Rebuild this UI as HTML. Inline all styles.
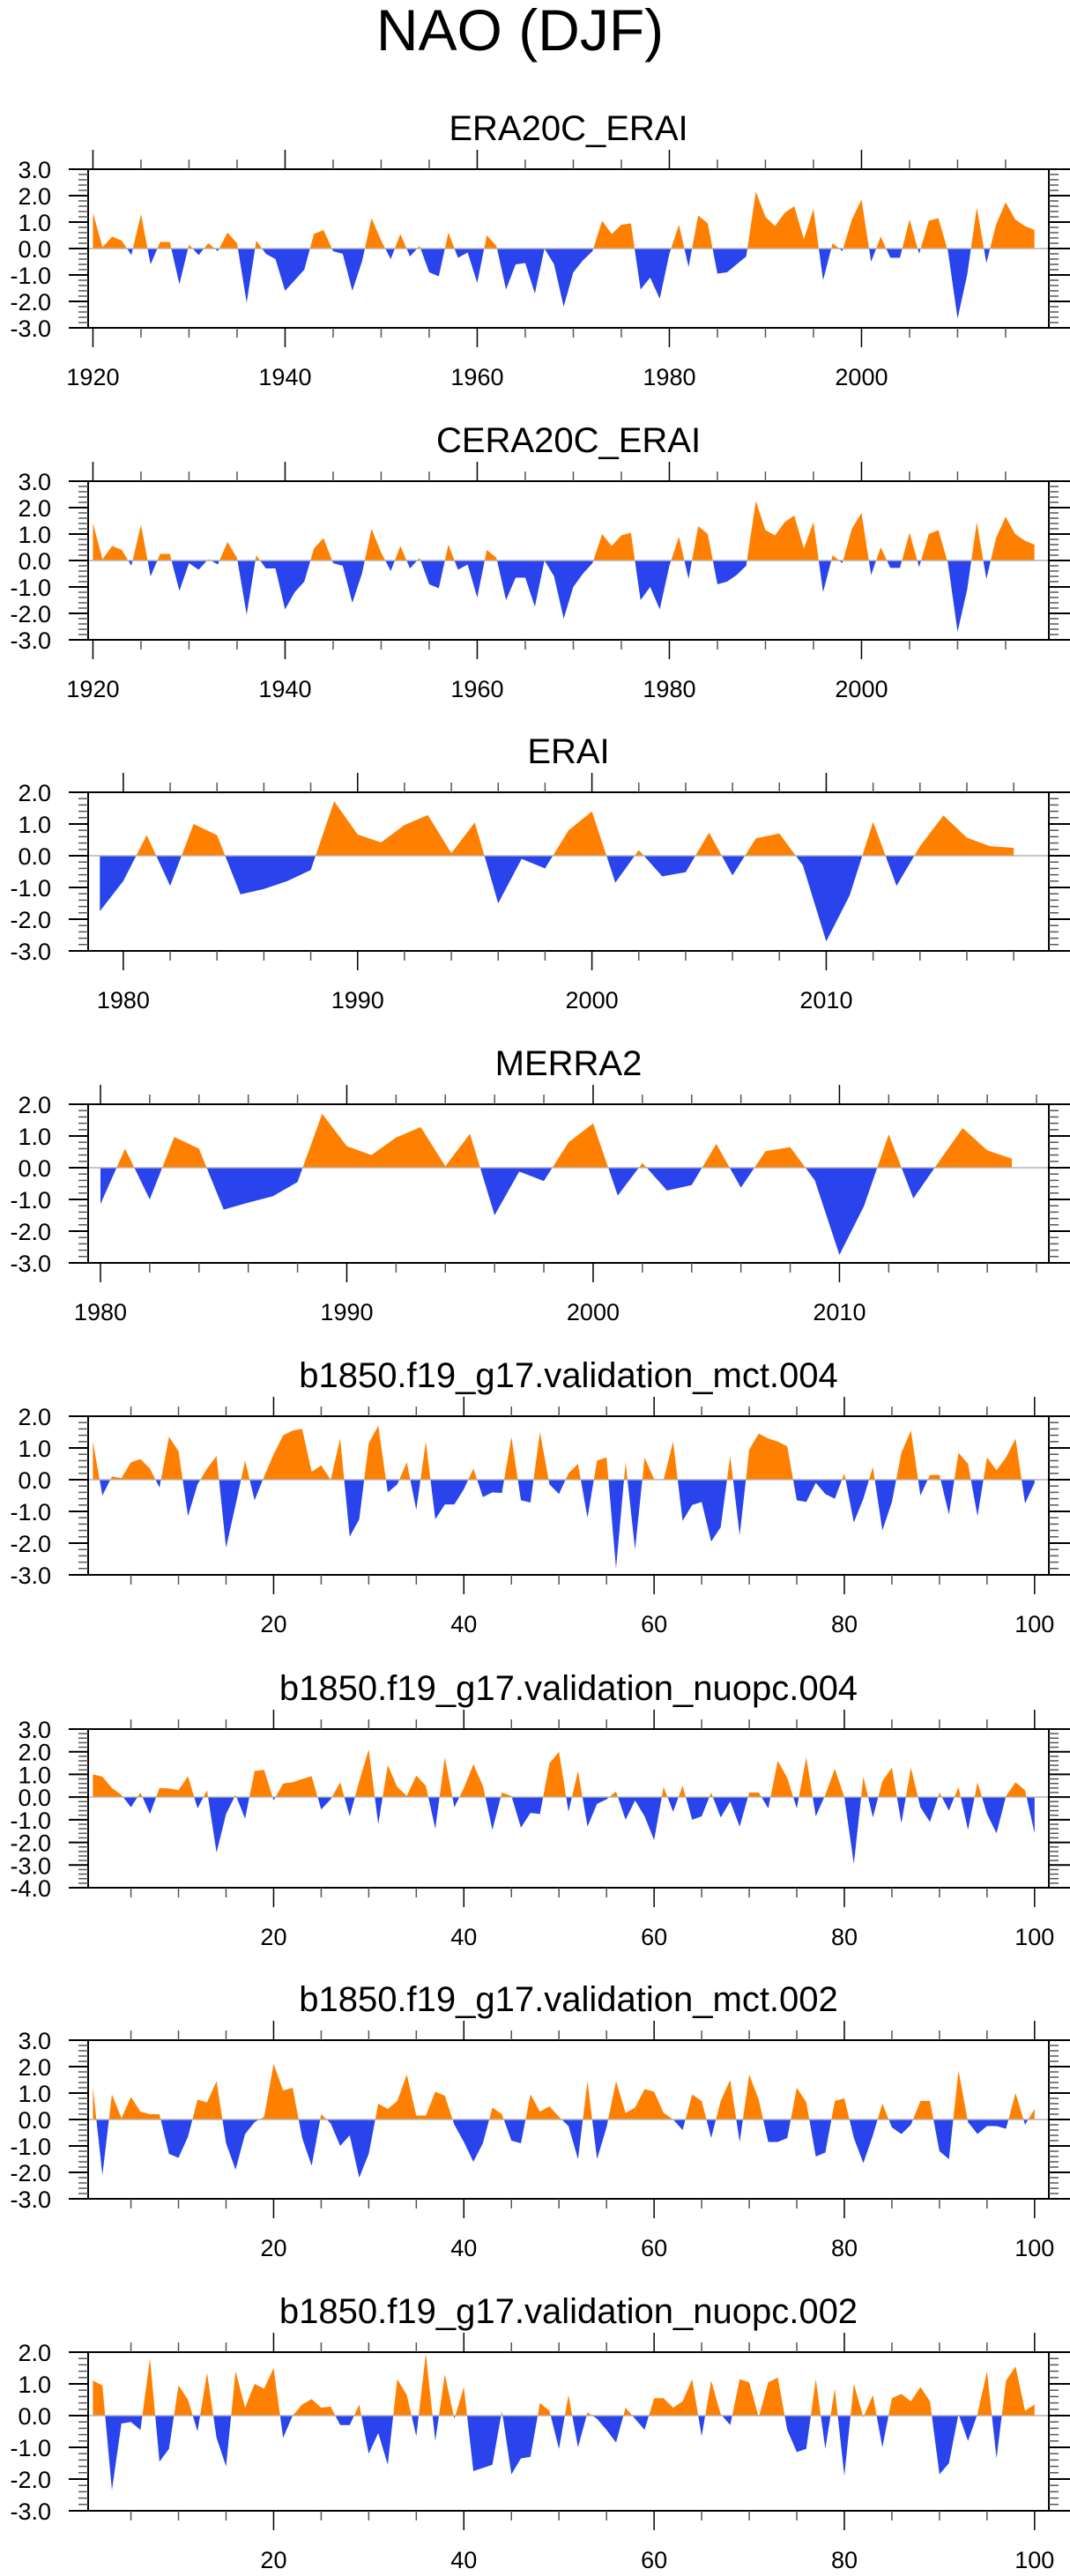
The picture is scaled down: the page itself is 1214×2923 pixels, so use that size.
<!DOCTYPE html>
<html><head><meta charset="utf-8"><title>NAO (DJF)</title>
<style>
html,body{margin:0;padding:0;background:#fff;}
svg{display:block;font-family:"Liberation Sans",Arial,sans-serif;}
</style></head>
<body>
<svg id="fig" width="1214" height="2923" viewBox="0 0 1214 2923" xmlns="http://www.w3.org/2000/svg">
<text x="590" y="57" font-size="66" text-anchor="middle">NAO (DJF)</text>
</svg>
<script>
// ---- data ----
const era20cYears = {start:1920};
const era20cValues = [1.35,0.05,0.45,0.3,-0.25,1.3,-0.6,0.25,0.25,-1.35,0.15,-0.25,0.2,-0.1,0.6,0.2,-2.05,0.3,-0.2,-0.4,
-1.6,-1.2,-0.8,0.55,0.7,-0.1,-0.2,-1.6,-0.5,1.15,0.3,-0.4,0.55,-0.3,0.1,-0.9,-1.05,0.6,-0.35,-0.15,
-1.3,0.5,0.1,-1.55,-0.6,-0.55,-1.7,0.0,-0.6,-2.2,-0.9,-0.45,-0.1,1.05,0.55,0.9,0.95,-1.55,-1.1,-1.9,
-0.2,0.9,-0.7,1.25,0.95,-0.95,-0.9,-0.6,-0.3,2.15,1.2,0.85,1.35,1.6,0.35,1.5,-1.2,0.2,-0.1,1.1,
1.85,-0.5,0.45,-0.35,-0.35,1.1,-0.2,1.05,1.15,-0.1,-2.65,-1.0,1.55,-0.55,0.9,1.75,1.1,0.85,0.7];
const cera20cValues = [1.4,0.05,0.55,0.4,-0.2,1.35,-0.6,0.25,0.25,-1.15,-0.1,-0.35,0.05,-0.15,0.7,0.1,-2.05,0.2,-0.3,-0.3,
-1.85,-1.2,-0.8,0.45,0.85,-0.1,-0.2,-1.6,-0.5,1.2,0.3,-0.4,0.55,-0.3,0.1,-0.9,-1.05,0.6,-0.35,-0.15,
-1.4,0.4,0.1,-1.5,-0.65,-0.65,-1.75,0.0,-0.6,-2.2,-1.0,-0.5,-0.1,1.0,0.55,0.95,1.05,-1.5,-1.0,-1.85,
-0.2,0.9,-0.7,1.3,1.0,-0.9,-0.8,-0.55,-0.2,2.25,1.15,0.95,1.45,1.7,0.45,1.45,-1.2,0.2,-0.1,1.2,
1.8,-0.55,0.5,-0.28,-0.28,1.05,-0.25,1.0,1.15,-0.1,-2.7,-1.1,1.45,-0.7,0.85,1.65,1.0,0.75,0.6];
const eraiValues = [-1.75,-0.8,0.65,-0.95,1.0,0.65,-1.22,-1.05,-0.8,-0.45,1.72,0.67,0.42,0.97,1.28,0.08,1.05,-1.5,-0.1,-0.4,
0.8,1.4,-0.85,0.18,-0.65,-0.52,0.73,-0.62,0.55,0.7,-0.3,-2.7,-1.25,1.07,-0.95,0.3,1.27,0.57,0.3,0.25];
const merra2Values = [-1.15,0.6,-1.0,0.97,0.6,-1.32,-1.1,-0.9,-0.45,1.7,0.68,0.4,0.95,1.28,0.05,1.07,-1.5,-0.12,-0.42,0.8,
1.4,-0.88,0.15,-0.72,-0.55,0.75,-0.63,0.52,0.65,-0.4,-2.75,-1.2,1.05,-0.97,0.15,1.25,0.55,0.28];
const mct004Values = [1.2,-0.5,0.1,0.05,0.55,0.65,0.35,-0.25,1.35,0.9,-1.15,-0.15,0.35,0.75,-2.15,-0.8,0.6,-0.65,0.1,0.8,
1.4,1.55,1.6,0.25,0.45,0.0,1.3,-1.8,-1.25,1.15,1.7,-0.4,-0.15,0.55,-0.95,1.2,-1.25,-0.78,-0.78,-0.3,
0.35,-0.55,-0.4,-0.42,1.35,-0.65,-0.72,1.5,-0.15,-0.45,0.2,0.5,-1.2,0.6,0.7,-2.8,0.55,-2.2,0.7,0.02,
0.0,1.2,-1.3,-0.8,-0.7,-1.95,-1.5,0.75,-1.75,0.95,1.45,1.3,1.2,1.05,-0.65,-0.7,-0.1,-0.45,-0.6,0.2,
-1.35,-0.6,0.4,-1.6,-0.7,0.85,1.55,-0.5,0.15,0.15,-1.1,0.85,0.5,-1.15,0.7,0.3,0.7,1.3,-0.75,-0.1];
const nuopc004Values = [1.0,0.9,0.4,0.1,-0.45,0.2,-0.75,0.4,0.38,0.3,0.92,-0.5,0.3,-2.45,-0.75,0.1,-0.95,1.15,1.2,-0.15,
0.6,0.65,0.8,0.92,-0.55,-0.1,0.65,-0.85,0.7,2.1,-1.2,1.4,0.45,0.05,0.95,0.5,-1.4,1.75,-0.45,0.4,
1.45,0.5,-1.45,0.2,0.05,-1.35,-0.7,-0.75,1.5,2.0,-0.65,1.15,-1.3,-0.3,-0.1,0.25,-1.0,-0.15,-0.85,-1.9,
0.45,-0.65,0.5,-1.0,-0.85,0.2,-0.9,-0.2,-1.3,0.2,0.2,-0.5,1.6,0.85,-0.5,1.75,-0.85,0.1,1.25,0.0,
-2.95,0.9,-0.9,0.7,1.3,-1.15,1.3,-0.45,-1.1,0.2,-0.6,0.45,-1.45,0.65,-0.75,-1.6,0.05,0.65,0.3,-1.6];
const mct002Values = [1.2,-2.1,0.95,0.05,0.85,0.3,0.2,0.2,-1.3,-1.45,-0.65,0.75,0.65,1.45,-0.9,-1.9,-0.55,-0.1,0.1,2.1,
1.1,1.2,-0.7,-1.75,0.2,-0.15,-1.0,-0.6,-2.2,-1.3,0.6,0.4,0.7,1.7,0.15,0.15,1.05,0.9,-0.2,-0.85,
-1.6,-0.9,0.45,0.2,-0.8,-0.9,0.95,0.3,0.5,0.1,-0.25,-1.5,1.45,-1.5,-0.3,1.45,0.25,0.45,1.15,1.05,
0.25,0.0,-0.4,0.95,0.7,-0.7,0.7,1.5,-0.85,1.7,0.75,-0.85,-0.85,-0.7,1.2,0.65,-1.4,-1.25,0.7,0.8,
-0.7,-1.65,-0.6,0.6,-0.3,-0.55,-0.2,0.7,0.7,-1.2,-1.5,1.85,-0.1,-0.55,-0.25,-0.25,-0.35,1.0,-0.2,0.4];
const nuopc002Values = [1.1,0.95,-2.35,-0.25,-0.2,-0.45,1.8,-1.45,-1.05,0.95,0.5,-0.5,1.35,-0.7,-1.6,1.4,0.25,1.0,0.85,1.5,
-0.7,0.0,0.35,0.52,0.25,0.28,-0.3,-0.3,0.35,-1.2,-0.55,-1.55,1.15,0.65,-0.65,1.95,-0.8,1.3,-0.1,0.9,
-1.75,-1.65,-1.55,0.15,-1.85,-1.35,-1.3,0.4,0.15,-1.05,0.65,-1.0,0.1,-0.1,-0.45,-0.85,0.25,-0.1,-0.45,0.55,
0.55,0.25,0.45,1.15,-0.65,1.1,0.05,-0.3,1.15,1.05,-0.05,1.05,1.2,-0.45,-1.15,-1.05,1.15,-1.05,0.85,-1.9,
1.0,-0.05,0.65,-1.0,0.55,0.68,0.45,0.9,0.45,-1.85,-1.5,0.05,-0.8,0.05,1.4,-1.35,1.1,1.55,0.15,0.35];

const panelTitles = ["ERA20C_ERAI","CERA20C_ERAI","ERAI","MERRA2",
 "b1850.f19_g17.validation_mct.004","b1850.f19_g17.validation_nuopc.004",
 "b1850.f19_g17.validation_mct.002","b1850.f19_g17.validation_nuopc.002"];
const panelSeries = [era20cValues,cera20cValues,eraiValues,merra2Values,mct004Values,nuopc004Values,mct002Values,nuopc002Values];
const panelStart = [1920,1920,1979,1980,1,1,1,1];
const panelXMin = [1919.5,1919.5,1978.5,1979.5,0.5,0.5,0.5,0.5];
const panelXMax = [2019.5,2019.5,2019.5,2018.5,101.5,101.5,101.5,101.5];
const panelYMin = [-3,-3,-3,-3,-3,-4,-3,-3];
const panelYMax = [3,3,2,2,2,3,3,2];
const xMajorTicks = [[1920,1940,1960,1980,2000],[1920,1940,1960,1980,2000],[1980,1990,2000,2010],[1980,1990,2000,2010],
 [20,40,60,80,100],[20,40,60,80,100],[20,40,60,80,100],[20,40,60,80,100]];
const xMinorStep = [5,5,2,2,5,5,5,5];
const panelTops = [192,546,899,1253,1607,1962,2315,2669];

// ---- drawing ----
const NS = "http://www.w3.org/2000/svg";
const svg = document.getElementById('fig');
const L = 100, R = 1190, H = 180;
function mk(tag, attrs, parent){
  const e = document.createElementNS(NS, tag);
  for (const k in attrs) e.setAttribute(k, attrs[k]);
  (parent||svg).appendChild(e);
  return e;
}
panelSeries.forEach((vals, p) => {
  const top = panelTops[p], bot = top + H;
  const x0 = panelXMin[p], x1 = panelXMax[p], y0 = panelYMin[p], y1 = panelYMax[p];
  const sx = v => L + (v - x0) / (x1 - x0) * (R - L);
  const sy = v => bot - (v - y0) / (y1 - y0) * H;
  const g = mk('g', {});
  
  
  const t = mk('text', {x: 645, y: top - 33, 'font-size': 40, 'text-anchor': 'middle'}, g);
  t.textContent = panelTitles[p];
  
  
  // clip paths
  const zy = sy(0);
  const defs = mk('defs', {}, g);
  const cpA = mk('clipPath', {id: 'ca' + p}, defs);
  mk('rect', {x: L, y: top, width: R - L, height: zy - top}, cpA);
  const cpB = mk('clipPath', {id: 'cb' + p}, defs);
  mk('rect', {x: L, y: zy, width: R - L, height: bot - zy}, cpB);
  let pts = vals.map((v, i) => sx(panelStart[p] + i).toFixed(2) + ',' + sy(v).toFixed(2));
  const xa = sx(panelStart[p]), xb = sx(panelStart[p] + vals.length - 1);
  pts.push(xb.toFixed(2) + ',' + zy.toFixed(2));
  pts.push(xa.toFixed(2) + ',' + zy.toFixed(2));
  const ptsStr = pts.join(' ');
  const pos = mk('polygon', {points: ptsStr, fill: '#ff8000', 'clip-path': 'url(#ca' + p + ')'}, g);
  
  
  const neg = mk('polygon', {points: ptsStr, fill: '#2944ec', 'clip-path': 'url(#cb' + p + ')'}, g);
  
  
  const zl = mk('line', {x1: L, x2: R, y1: zy, y2: zy, stroke: '#b4b4b4', 'stroke-width': 1.5}, g);
  
  
  // frame
  const fr = mk('rect', {x: L, y: top, width: R - L, height: H, fill: 'none', stroke: '#000', 'stroke-width': 2}, g);
  
  
  // y ticks
  for (let v = y0; v <= y1 + 1e-6; v += 0.2) {
    const vv = Math.round(v * 10) / 10;
    const yy = sy(vv);
    const major = Math.abs(vv - Math.round(vv)) < 1e-6;
    const len = major ? 22 : 11;
    mk('line', {x1: L - len, x2: L, y1: yy, y2: yy, stroke: major ? '#000' : '#555', 'stroke-width': major ? 2 : 1.5}, g);
    mk('line', {x1: R, x2: R + (major ? 24 : 11), y1: yy, y2: yy, stroke: major ? '#000' : '#555', 'stroke-width': major ? 2 : 1.5}, g);
    if (major) {
      const lb = mk('text', {x: 58, y: yy + 10, 'font-size': 27, 'text-anchor': 'end'}, g);
      lb.textContent = vv.toFixed(1);
      
      
    }
  }
  // x ticks
  const step = xMinorStep[p];
  const first = Math.ceil(x0 / step) * step;
  for (let v = first; v <= x1; v += step) {
    const xx = sx(v);
    const major = xMajorTicks[p].indexOf(v) >= 0;
    const len = major ? 22 : 11;
    mk('line', {x1: xx, x2: xx, y1: top - len, y2: top, stroke: major ? '#000' : '#555', 'stroke-width': 1.5}, g);
    mk('line', {x1: xx, x2: xx, y1: bot, y2: bot + len, stroke: major ? '#000' : '#555', 'stroke-width': 1.5}, g);
  }
  xMajorTicks[p].forEach(v => {
    const lb = mk('text', {x: sx(v), y: top + 245, 'font-size': 27, 'text-anchor': 'middle'}, g);
    lb.textContent = String(v);
    
    
  });
});
</script>
</body></html>
